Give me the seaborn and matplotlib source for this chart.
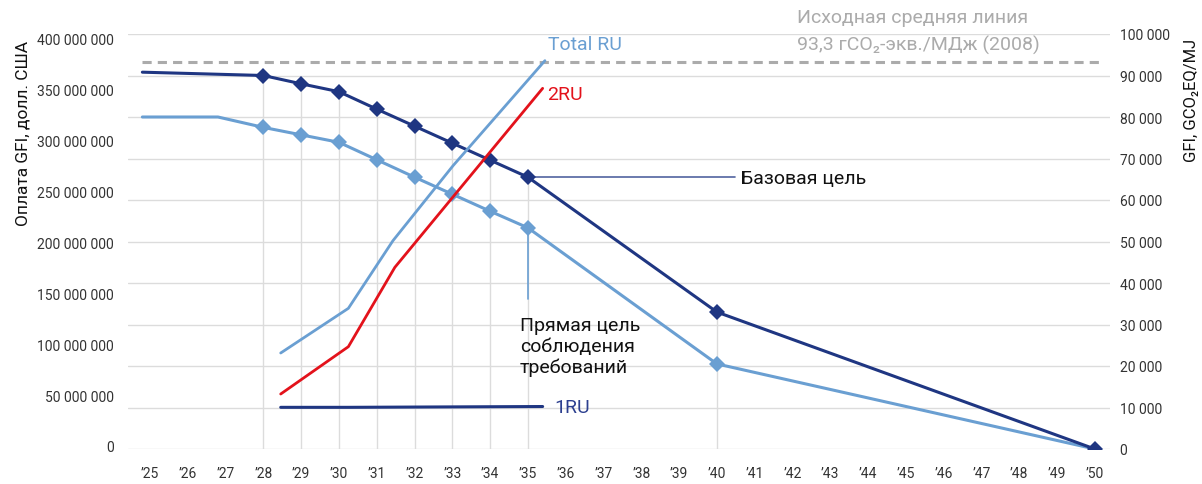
import matplotlib
matplotlib.use("Agg")
import matplotlib.pyplot as plt
from matplotlib import font_manager
import seaborn as sns

# --- data ---
tick_years = list(range(2025, 2051))
tick_labels = [f"\u2019{y % 100}" for y in tick_years]

base_years = [2024.8, 2028, 2029, 2030, 2031, 2032, 2033, 2034, 2035, 2040, 2050]
base_gfi = [90800, 90000, 88000, 86100, 81900, 77800, 73700, 69600, 65500, 33000, 0]

direct_years = [2024.8, 2026.8, 2028, 2029, 2030, 2031, 2032, 2033, 2034, 2035, 2040, 2050]
direct_gfi = [80000, 80000, 77500, 75700, 73900, 69700, 65500, 61400, 57300, 53300, 20500, 0]

baseline_gfi = 93300
baseline_span = [2024.8, 2050.1]

total_ru_years = [2028.46, 2030.25, 2031.43, 2033.02, 2035.45]
total_ru_usd = [91.4e6, 135.3e6, 201.8e6, 275.5e6, 378.7e6]
ru2_years = [2028.46, 2030.25, 2031.48, 2035.39]
ru2_usd = [51.1e6, 97.6e6, 175.6e6, 351.5e6]
ru1_years = [2028.46, 2030.25, 2035.39]
ru1_usd = [38.0e6, 38.0e6, 38.8e6]

drop_years = [2028, 2029, 2030, 2031, 2032, 2033, 2034, 2035, 2040]

left_ticks = list(range(0, 400_000_001, 50_000_000))
right_ticks = list(range(0, 100_001, 10_000))

DARK = "#1f3682"
LIGHT = "#6a9fd2"
RED = "#e3121b"
GRID = "#dcdcdc"
GREY = "#ababab"

sns.set_theme(style="white")
names = {f.name for f in font_manager.fontManager.ttflist}
narrow = "Liberation Sans Narrow" if "Liberation Sans Narrow" in names else "Roboto"
tick_size = 11.5 if narrow != "Roboto" else 10
plt.rcParams["font.family"] = ["Roboto", "DejaVu Sans"]

fig = plt.figure(figsize=(12.02, 4.85), dpi=100)
ax = fig.add_axes([128 / 1202, 35 / 485, 982 / 1202, 415 / 485])  # GFI axis (right)
axu = ax.twinx()  # USD axis (left)
ax.yaxis.tick_right()
ax.yaxis.set_label_position("right")
axu.yaxis.tick_left()
axu.yaxis.set_label_position("left")

ax.set_xlim(2024.42, 2050.4)
ax.set_ylim(0, 100000)
axu.set_ylim(-2.95e6, 404.9e6)

# grid and drop lines
for v in right_ticks:
    ax.axhline(v, color=GRID, lw=1, zorder=0)
drop_vals = [base_gfi[base_years.index(y)] for y in drop_years]
ax.vlines(drop_years, 0, drop_vals, color=GRID, lw=1, zorder=0)

# baseline
ax.plot(baseline_span, [baseline_gfi] * 2, color=GREY, lw=2.2, ls=(0, (3, 2)), zorder=1)

# target lines
sns.lineplot(x=base_years, y=base_gfi, ax=ax, color=DARK, lw=2.2, marker="D",
             markersize=8, markeredgewidth=0, markevery=list(range(1, 11)),
             estimator=None, zorder=3)
sns.lineplot(x=direct_years, y=direct_gfi, ax=ax, color=LIGHT, lw=2.2, marker="D",
             markersize=8, markeredgewidth=0, markevery=list(range(2, 11)),
             estimator=None, zorder=2)

# connectors for target labels
ax.plot([2035, 2040.48], [65500, 65500], color="#51639f", lw=1.2, zorder=1)
ax.plot([2035, 2035], [53300, 36145], color=LIGHT, lw=1.2, zorder=1)

# RU lines on USD axis
sns.lineplot(x=total_ru_years, y=total_ru_usd, ax=axu, color=LIGHT, lw=2, estimator=None)
sns.lineplot(x=ru2_years, y=ru2_usd, ax=axu, color=RED, lw=2, estimator=None)
sns.lineplot(x=ru1_years, y=ru1_usd, ax=axu, color=DARK, lw=2.2, estimator=None)

# ticks
ax.set_xticks(tick_years)
ax.set_xticklabels(tick_labels, fontfamily=narrow, fontsize=tick_size, color="#333333")
ax.set_yticks(right_ticks)
ax.set_yticklabels([f"{v:,}".replace(",", " ") for v in right_ticks],
                   fontfamily=narrow, fontsize=tick_size, color="#333333")
axu.set_yticks(left_ticks)
axu.set_yticklabels([f"{v:,}".replace(",", " ") for v in left_ticks],
                    fontfamily=narrow, fontsize=tick_size, color="#333333")
ax.tick_params(axis="x", length=0, pad=12)
ax.tick_params(axis="y", length=0, pad=7)
axu.tick_params(axis="y", length=0, pad=10)
for a in (ax, axu):
    for s in a.spines.values():
        s.set_visible(False)
    a.set_xlabel("")

axu.set_ylabel("Оплата GFI, долл. США", fontsize=12.5, color="#111111")
axu.yaxis.set_label_coords(-0.0995, 0.764)
ax.set_ylabel("GFI, GCO\u2082EQ/MJ", fontsize=12, color="#111111", rotation=90)
ax.yaxis.set_label_coords(1.0755, 0.843)

# text annotations
ann = 14
ax.text(2035.53, 97590, "Total RU", color=LIGHT, fontsize=ann, va="center")
ax.text(2035.50, 85542, "2RU", color=RED, fontsize=ann, va="center")
ax.text(2035.71, 10120, "1RU", color="#2c3f8f", fontsize=ann, va="center")
ax.text(2040.63, 65300, "Базовая цель", color="#111111", fontsize=ann, va="center")
ax.text(2034.79, 24800, "Прямая цель\nсоблюдения\nтребований", color="#111111",
        fontsize=ann, va="center", linespacing=1.2)
ax.text(2042.12, 104100, "Исходная средняя линия", color=GREY, fontsize=ann, va="center")
ax.text(2042.12, 97590, "93,3 гCO\u2082-экв./МДж (2008)", color=GREY, fontsize=ann, va="center")

fig.savefig("out.png", dpi=100)
